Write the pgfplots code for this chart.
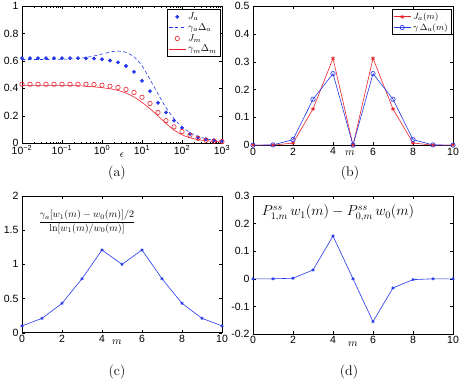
\documentclass[border=0pt]{standalone}
\usepackage{pgfplots}
\pgfplotsset{compat=1.18}
\usepackage{fontspec}
\newfontfamily\helv{Liberation Sans}
\definecolor{mblue}{RGB}{35,55,235}
\definecolor{mred}{RGB}{235,35,45}
\pgfplotsset{
  mystyle/.style={
    scale only axis,
    clip=false,
    tick align=inside,
    major tick length=3pt,
    minor tick length=1.7pt,
    tick style={black,line width=0.35pt},
    axis line style={line width=0.45pt},
    tick label style={font=\helv\fontsize{10.5}{11}\selectfont},
    xticklabel style={yshift=1pt},
    /pgf/number format/assume math mode=true,
    xlabel style={font=\fontsize{11}{11}\selectfont},
    every axis plot/.append style={line width=0.6pt},
  }
}
\begin{document}
\begin{tikzpicture}
\useasboundingbox (0pt,0pt) rectangle (463pt,385pt);

% ---------------- (a)
\begin{axis}[mystyle, at={(22pt,241.7pt)}, anchor=south west,
  width=200pt, height=137.3pt,
  xmode=log, xmin=0.01, xmax=1000, ymin=0, ymax=1,
  xtick={0.01,0.1,1,10,100,1000},
  xticklabels={10\textsuperscript{−2},10\textsuperscript{−1},10\textsuperscript{0},10\textsuperscript{1},10\textsuperscript{2},10\textsuperscript{3}},
  ytick={0,0.2,0.4,0.6,0.8,1},
  xlabel={$\epsilon$},
  xlabel style={at={(axis description cs:0.5,-0.085)},anchor=center},
  legend style={at={(0.99,0.975)},anchor=north east,font=\fontsize{10}{11}\selectfont,draw=black,line width=0.4pt,inner sep=1pt,row sep=-1.5pt},
  legend cell align=left]
\addplot[only marks, mark=*, mark size=1.6pt, color=mblue] coordinates {
(0.01,0.62)(0.01585,0.62)(0.02512,0.62)(0.03981,0.62)(0.06310,0.62)(0.1,0.62)
(0.1585,0.62)(0.2512,0.62)(0.3981,0.619)(0.6310,0.617)(1,0.612)(1.585,0.603)
(2.512,0.59)(3.981,0.563)(6.310,0.52)(10,0.455)(15.85,0.38)(25.12,0.295)
(39.81,0.225)(63.10,0.165)(100,0.113)(158.5,0.068)(251.2,0.043)(398.1,0.03)
(631.0,0.023)(1000,0.018)};
\addlegendentry{$J_a$}
\addplot[dashed, color=mblue, smooth, dash pattern=on 3.5pt off 2.5pt] coordinates {
(0.01,0.61)(0.01585,0.61)(0.02512,0.61)(0.03981,0.61)(0.06310,0.611)(0.1,0.612)
(0.1585,0.614)(0.2512,0.618)(0.3981,0.625)(0.6310,0.636)(1,0.65)(1.585,0.664)
(2.512,0.672)(3.981,0.662)(6.310,0.63)(10,0.565)(15.85,0.465)(25.12,0.36)
(39.81,0.26)(63.10,0.18)(100,0.12)(158.5,0.078)(251.2,0.05)(398.1,0.033)
(631.0,0.023)(1000,0.017)};
\addlegendentry{$\gamma_a\Delta_a$}
\addplot[only marks, mark=o, mark size=2.2pt, color=mred] coordinates {
(0.01,0.43)(0.01585,0.43)(0.02512,0.43)(0.03981,0.43)(0.06310,0.43)(0.1,0.43)
(0.1585,0.43)(0.2512,0.43)(0.3981,0.43)(0.6310,0.428)(1,0.423)(1.585,0.416)
(2.512,0.407)(3.981,0.392)(6.310,0.37)(10,0.335)(15.85,0.29)(25.12,0.225)
(39.81,0.165)(63.10,0.12)(100,0.085)(158.5,0.058)(251.2,0.036)(398.1,0.022)
(631.0,0.016)(1000,0.012)};
\addlegendentry{$J_m$}
\addplot[color=mred, smooth] coordinates {
(0.01,0.42)(0.01585,0.42)(0.02512,0.42)(0.03981,0.42)(0.06310,0.42)(0.1,0.42)
(0.1585,0.42)(0.2512,0.419)(0.3981,0.416)(0.6310,0.411)(1,0.405)(1.585,0.397)
(2.512,0.385)(3.981,0.366)(6.310,0.337)(10,0.298)(15.85,0.252)(25.12,0.2)
(39.81,0.145)(63.10,0.097)(100,0.062)(158.5,0.04)(251.2,0.027)(398.1,0.019)
(631.0,0.014)(1000,0.011)};
\addlegendentry{$\gamma_m\Delta_m$}
\node[font=\fontsize{14}{14}\selectfont] at (axis description cs:0.475,-0.216) {(a)};
\end{axis}

% ---------------- (b)
\begin{axis}[mystyle, at={(253pt,239.8pt)}, anchor=south west,
  width=200pt, height=139.2pt,
  xmin=0, xmax=10, ymin=0, ymax=0.5,
  xtick={0,2,4,6,8,10},
  ytick={0,0.1,0.2,0.3,0.4,0.5},
  xlabel={$m$},
  xlabel style={at={(axis description cs:0.485,-0.06)},anchor=center},
  legend style={at={(0.99,0.975)},anchor=north east,font=\fontsize{9.5}{10}\selectfont,draw=black,line width=0.4pt,inner sep=1pt,row sep=-1.5pt},
  legend cell align=left]
\addplot[color=mred, mark=asterisk, mark size=2pt] coordinates {
(0,0)(1,0)(2,0.008)(3,0.13)(4,0.312)(5,0)(6,0.312)(7,0.13)(8,0.008)(9,0)(10,0)};
\addlegendentry{$J_a(m)$}
\addplot[color=mblue, mark=o, mark size=2.2pt] coordinates {
(0,0)(1,0.001)(2,0.02)(3,0.165)(4,0.257)(5,0)(6,0.257)(7,0.165)(8,0.02)(9,0.001)(10,0)};
\addlegendentry{$\gamma\,\Delta_a(m)$}
\node[font=\fontsize{14}{14}\selectfont] at (axis description cs:0.485,-0.2) {(b)};
\end{axis}

% ---------------- (c)
\begin{axis}[mystyle, at={(22pt,52.3pt)}, anchor=south west,
  width=200pt, height=136.7pt,
  xmin=0, xmax=10, ymin=0, ymax=2,
  xtick={0,2,4,6,8,10},
  ytick={0,0.5,1,1.5,2},
  xlabel={$m$},
  xlabel style={at={(axis description cs:0.475,-0.068)},anchor=center}]
\addplot[color=mblue, mark=asterisk, mark size=1.6pt] coordinates {
(0,0.1)(1,0.21)(2,0.43)(3,0.79)(4,1.21)(5,1.0)(6,1.21)(7,0.79)(8,0.43)(9,0.21)(10,0.1)};
\node[font=\fontsize{10}{12}\selectfont] at (axis description cs:0.325,0.81)
  {$\displaystyle\frac{\gamma_a[w_1(m)-w_0(m)]/2}{\ln[w_1(m)/w_0(m)]}$};
\node[font=\fontsize{14}{14}\selectfont] at (axis description cs:0.475,-0.288) {(c)};
\end{axis}

% ---------------- (d)
\begin{axis}[mystyle, at={(253pt,51pt)}, anchor=south west,
  width=200pt, height=138pt,
  xmin=0, xmax=10, ymin=-0.2, ymax=0.3,
  xtick={0,2,4,6,8,10},
  ytick={-0.2,-0.1,0,0.1,0.2,0.3},
  xlabel={$m$},
  xlabel style={at={(axis description cs:0.5,-0.072)},anchor=center}]
\addplot[color=mblue, mark=asterisk, mark size=1.6pt] coordinates {
(0,0)(1,0)(2,0.002)(3,0.032)(4,0.155)(5,0)(6,-0.155)(7,-0.033)(8,-0.003)(9,0)(10,0)};
\node[font=\fontsize{14}{14}\selectfont] at (axis description cs:0.425,0.875)
  {$P^{ss}_{1,m}\,w_1(m)-P^{ss}_{0,m}\,w_0(m)$};
\node[font=\fontsize{14}{14}\selectfont] at (axis description cs:0.48,-0.275) {(d)};
\end{axis}
\end{tikzpicture}
\end{document}
